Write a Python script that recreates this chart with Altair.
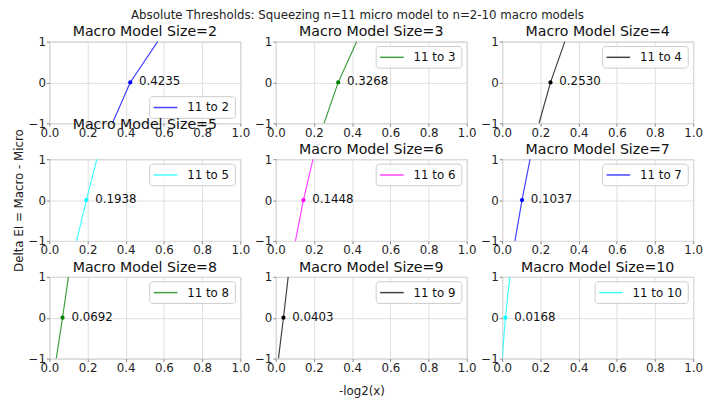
import altair as alt
import pandas as pd

# ---- data ----
macro_sizes = [2, 3, 4, 5, 6, 7, 8, 9, 10]
thresholds = [0.4235, 0.3268, 0.2530, 0.1938, 0.1448, 0.1037, 0.0692, 0.0403, 0.0168]
x_at_minus1 = [0.330, 0.253, 0.193, 0.143, 0.103, 0.067, 0.036, 0.014, 0.000]
x_at_plus1 = [0.567, 0.424, 0.328, 0.249, 0.195, 0.146, 0.100, 0.065, 0.040]
y_levels = [-1, 0, 1]
colors = ["#0000ff", "#008000", "#000000", "#00ffff", "#ff00ff",
          "#0000ff", "#008000", "#000000", "#00ffff"]
legend_loc = ["lower right"] + ["upper right"] * 8
x_ticks = [0.0, 0.2, 0.4, 0.6, 0.8, 1.0]
y_ticks = [-1, 0, 1]

FONT = "DejaVu Sans"
W, H = 194, 83


def panel(i):
    n = macro_sizes[i]
    col = colors[i]
    line_df = pd.DataFrame({"x": [x_at_minus1[i], thresholds[i], x_at_plus1[i]],
                            "y": y_levels})
    pt_df = pd.DataFrame({"x": [thresholds[i]], "y": [0],
                          "label": [f"{thresholds[i]:.4f}"]})
    label = f"11 to {n}"
    leg_df = pd.DataFrame({"label": [label]})

    common = dict(labelOverlap=False, labelBound=False, labelFlush=False)
    xkw = dict(values=x_ticks, format=".1f", title=None, tickCount=20, **common)
    # y ticks at -1, 0, 1: the scale's own tick step of 1 over [-1, 1]
    ykw = dict(tickCount=len(y_ticks) - 1, title=None, **common)
    if i == 7:
        xkw.update(title="-log2(x)", titleX=87, titleY=33, titleAlign="center",
                   titleBaseline="middle", titleFont=FONT, titleFontSize=12,
                   titleFontWeight="normal", titleColor="#222222")
    if i == 3:
        ykw.update(title="Delta EI = Macro - Micro", titleX=-31.5, titleY=H / 2,
                   titleAngle=270, titleAlign="center", titleBaseline="middle",
                   titleFont=FONT, titleFontSize=12, titleFontWeight="normal",
                   titleColor="#222222")
    xs = alt.Scale(domain=[0, 1], nice=False, zero=False)
    ys = alt.Scale(domain=[y_ticks[0], y_ticks[-1]], nice=False, zero=False)
    X = alt.X("x:Q", scale=xs, axis=alt.Axis(**xkw))
    Y = alt.Y("y:Q", scale=ys, axis=alt.Axis(**ykw))

    line = alt.Chart(line_df).mark_line(color=col, opacity=0.75, strokeWidth=1.2,
                                        clip=True).encode(x=X, y=Y)
    pt = alt.Chart(pt_df).mark_point(filled=True, color=col, opacity=1, size=18).encode(
        x=X, y=Y)
    txt = alt.Chart(pt_df).mark_text(align="left", baseline="middle", dx=9, dy=-1,
                                     font=FONT, fontSize=12, color="#111111").encode(
        x=X, y=Y, text="label:N")

    bw = 87 + 7.6 * (len(label) - 7)
    bx2 = W - 5
    bx1 = bx2 - bw
    if legend_loc[i] == "upper right":
        by1, by2 = 5, 27
    else:
        by1, by2 = H - 27, H - 5
    bym = (by1 + by2) / 2
    box = alt.Chart(leg_df).mark_rect(fill="white", fillOpacity=0.85, stroke="#cccccc",
                                      strokeWidth=1, cornerRadius=3).encode(
        x=alt.value(bx1), x2=alt.value(bx2), y=alt.value(by1), y2=alt.value(by2))
    sample = alt.Chart(leg_df).mark_rule(color=col, opacity=0.75, strokeWidth=1.5).encode(
        x=alt.value(bx1 + 4), x2=alt.value(bx1 + 28), y=alt.value(bym))
    ltxt = alt.Chart(leg_df).mark_text(align="left", baseline="middle", font=FONT,
                                       fontSize=12, color="#111111").encode(
        x=alt.value(bx1 + 38), y=alt.value(bym), text="label:N")

    return alt.layer(line, pt, txt, box, sample, ltxt).properties(
        width=W, height=H,
        title=alt.TitleParams(f"Macro Model Size={n}", font=FONT, fontSize=14.4,
                              fontWeight="normal", color="#111111", offset=-4),
    )


chart = alt.concat(
    *[panel(i) for i in range(9)],
    columns=3,
    spacing={"row": 36.5, "column": 36},
    bounds="flush",
).properties(
    title=alt.TitleParams("Absolute Thresholds: Squeezing n=11 micro model to n=2-10 macro models",
                          font=FONT, fontSize=12, fontWeight="normal", color="#222222",
                          anchor="middle", offset=2),
    padding={"left": 3, "top": -2, "right": 0, "bottom": 0},
).configure_view(
    stroke="#bdbdbd", strokeWidth=1
).configure_axis(
    grid=True, gridColor="#dedede", gridWidth=1, domain=False,
    ticks=True, tickSize=3, tickColor="#888888",
    labelFont=FONT, labelFontSize=12, labelColor="#222222", labelPadding=1,
)

chart.save("out.html", embed_options={"renderer": "svg", "actions": False})
